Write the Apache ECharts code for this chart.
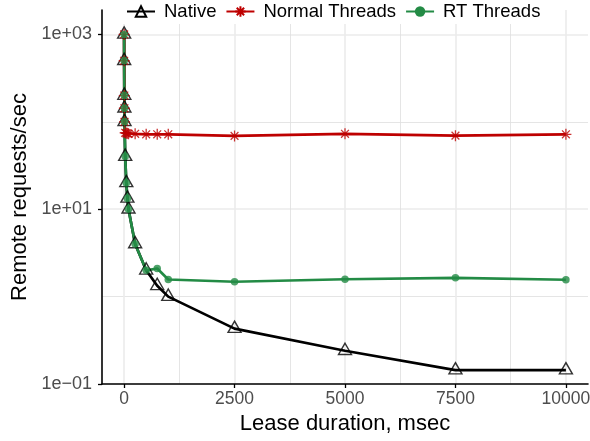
<!DOCTYPE html>
<html>
<head>
<meta charset="utf-8">
<script src="https://cdn.jsdelivr.net/npm/echarts@6/dist/echarts.min.js"></script>
<style>
  html, body { margin: 0; padding: 0; background: #fff; }
  #chart { width: 590px; height: 441px; }
</style>
</head>
<body>
<div id="chart"></div>
<script>
// lease durations (msec)
const lease = [1, 2, 5, 7, 10, 25, 50, 75, 100, 250, 500, 750, 1000, 2500, 5000, 7500, 10000];
// remote requests/sec per series
const nativeVals = [1000, 500, 200, 143, 100, 40, 20, 13.3, 10, 4, 2, 1.33, 1, 0.43, 0.24, 0.144, 0.144];
const normalVals = [1000, 500, 200, 143, 100, 75, 74, 74, 73, 73, 72, 72, 72, 69, 73, 69.5, 72];
const rtVals = [1000, 500, 200, 143, 100, 40, 20, 13.3, 10, 4, 2, 2.1, 1.57, 1.48, 1.58, 1.64, 1.56];

const xMajor = [0, 2500, 5000, 7500, 10000];
const xMinor = [1250, 3750, 6250, 8750];
const yMajor = [0.1, 10, 1000];
const yMinor = [1, 100];

const BLACK = "#000000";
const RED = "#be0000";
const GREEN = "#238b45";
const STAR = "path://M10,0V20M0,10H20M2.9,2.9L17.1,17.1M2.9,17.1L17.1,2.9";
const FONT = "Liberation Sans";

function pairs(vals) {
  return lease.map((x, i) => [x, vals[i]]);
}

function fmtExp(v) {
  const e = Math.round(Math.log10(v));
  const s = Math.abs(e) < 10 ? "0" + Math.abs(e) : String(Math.abs(e));
  return "1e" + (e < 0 ? "\u2212" : "+") + s;
}

const chart = echarts.init(document.getElementById("chart"), null, { renderer: "canvas" });

const lineSeries = (name, vals, color, symbol, itemStyle) => ({
  name,
  type: "line",
  data: pairs(vals),
  showSymbol: false,
  symbol,
  itemStyle,
  lineStyle: { color, width: 2.7 },
  z: 2,
});

const pointSeries = (name, vals, symbol, symbolSize, itemStyle, extra) => Object.assign({
  name,
  type: "scatter",
  data: pairs(vals),
  symbol,
  symbolSize,
  itemStyle,
  z: 3,
}, extra || {});

const nativeStyle = { color: "rgba(0,0,0,0)", borderColor: BLACK, borderWidth: 1.4 };
const normalStyle = { color: RED, borderColor: RED, borderWidth: 1.3 };
const rtStyle = { color: GREEN, borderWidth: 0 };

chart.setOption({
  animation: false,
  backgroundColor: "#fff",
  textStyle: { fontFamily: FONT },
  grid: { left: 102, right: 2, top: 10, bottom: 57, containLabel: false, outerBoundsMode: "none" },
  legend: {
    data: ["Native", "Normal Threads", "RT Threads"],
    left: 121,
    top: 0,
    padding: [2, 6, 3, 5],
    backgroundColor: "#fff",
    itemGap: 9,
    itemWidth: 28,
    itemHeight: 13,
    textStyle: { fontSize: 18.5, color: "#000", fontFamily: FONT, padding: [0, 0, 0, 4] },
    z: 10,
  },
  xAxis: [
    {
      type: "value",
      min: -500,
      max: 10500,
      position: "bottom",
      name: "Lease duration, msec",
      nameLocation: "middle",
      nameGap: 26,
      nameTextStyle: { fontSize: 22, color: "#000", fontFamily: FONT },
      axisLine: { show: true, onZero: false, lineStyle: { color: BLACK, width: 1.6 } },
      axisTick: { show: true, customValues: xMajor, length: 4, lineStyle: { color: BLACK, width: 1.3 } },
      axisLabel: {
        customValues: xMajor,
        formatter: (v) => String(v),
        color: "#4d4d4d",
        fontSize: 17.5,
        margin: 6,
        fontFamily: FONT,
      },
      splitLine: { show: true, lineStyle: { color: "#ebebeb", width: 1.6 } },
    },
    {
      type: "value",
      min: -500,
      max: 10500,
      position: "top",
      axisLine: { show: false },
      axisTick: { show: false, customValues: xMinor },
      axisLabel: { show: false },
      splitLine: { show: true, lineStyle: { color: "#dedede", width: 0.8 } },
    },
  ],
  yAxis: [
    {
      type: "log",
      logBase: 10,
      min: 0.1,
      max: 1905,
      position: "left",
      name: "Remote requests/sec",
      nameLocation: "middle",
      nameGap: 70,
      nameTextStyle: { fontSize: 22, color: "#000", fontFamily: FONT },
      axisLine: { show: true, onZero: false, lineStyle: { color: BLACK, width: 1.6 } },
      axisTick: { show: true, customValues: yMajor, length: 4, lineStyle: { color: BLACK, width: 1.3 } },
      axisLabel: { customValues: yMajor, formatter: fmtExp, color: "#4d4d4d", fontSize: 18, margin: 10, fontFamily: FONT },
      splitLine: { show: true, lineStyle: { color: "#ebebeb", width: 1.6 } },
    },
    {
      type: "log",
      logBase: 10,
      min: 0.1,
      max: 1905,
      position: "right",
      axisLine: { show: false },
      axisTick: { show: false, customValues: yMinor },
      axisLabel: { show: false },
      splitLine: { show: true, lineStyle: { color: "#dedede", width: 0.8 } },
    },
  ],
  series: [
    lineSeries("Native", nativeVals, BLACK, "triangle", nativeStyle),
    lineSeries("Normal Threads", normalVals, RED, STAR, normalStyle),
    lineSeries("RT Threads", rtVals, GREEN, "circle", rtStyle),
    pointSeries("Native", nativeVals, "triangle", [13, 11.3], nativeStyle, { symbolOffset: [0, -1.9] }),
    pointSeries("Normal Threads", normalVals, STAR, 11, normalStyle),
    pointSeries("RT Threads", rtVals, "circle", 7.5, rtStyle),
  ],
});
</script>
</body>
</html>
